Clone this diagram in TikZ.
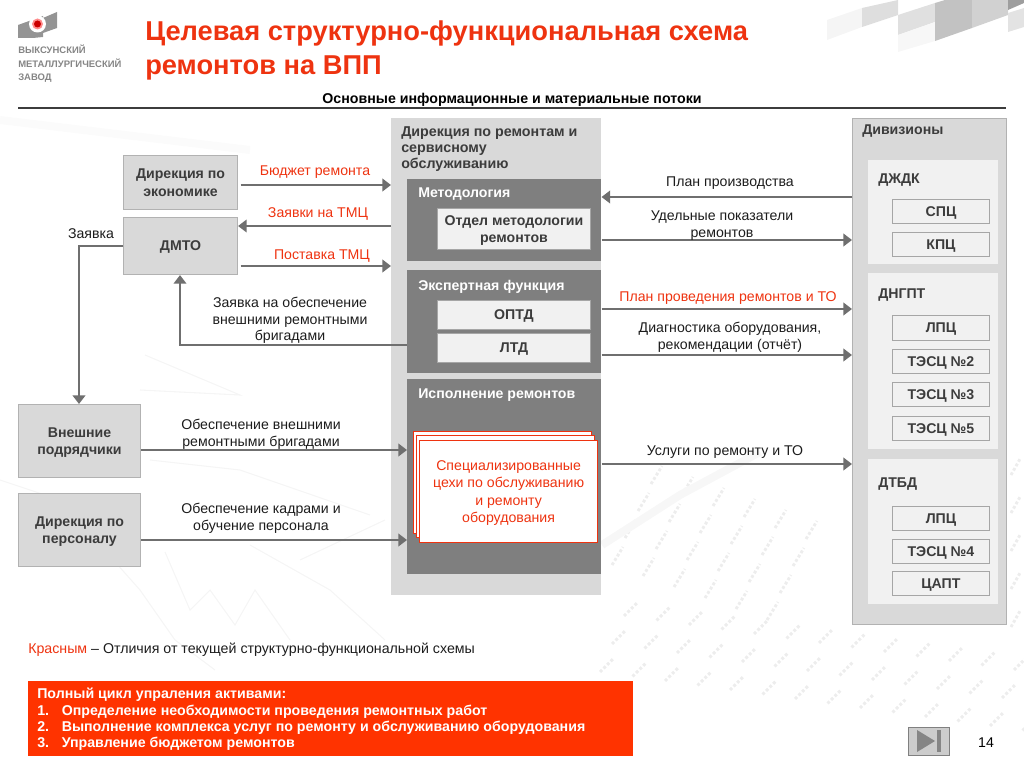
\documentclass[tikz,border=0pt]{standalone}
\usepackage{fontspec}
\setmainfont{Liberation Sans}
\usetikzlibrary{arrows.meta,calc}
\definecolor{redt}{HTML}{EE3310}
\definecolor{redb}{HTML}{FF3300}
\definecolor{lgray}{HTML}{D9D9D9}
\definecolor{pale}{HTML}{F1F1F1}
\definecolor{midg}{HTML}{7F7F7F}
\definecolor{linec}{HTML}{6F6F6F}
\definecolor{txtd}{HTML}{3C3C3C}
\definecolor{txtb}{HTML}{1C1C1C}
\tikzset{
 box/.style n args={4}{rectangle,inner sep=0pt,anchor=north west,minimum width=(#3-#1)*0.75pt,minimum height=(#4-#2)*0.75pt},
 sidebox/.style={fill=lgray,draw=black!30,line width=.8pt,align=center,text depth=0pt,font=\fontsize{10.6}{13}\selectfont\bfseries,text=txtd},
 smallbox/.style={fill=pale,draw=black!35,line width=.7pt,align=center,text depth=0pt,font=\fontsize{10.6}{13}\selectfont\bfseries,text=txtd},
 darkpanel/.style={fill=midg},
 panelhead/.style={anchor=west,inner sep=0pt,text depth=0pt,font=\fontsize{10.6}{12}\selectfont\bfseries},
 link/.style={draw=linec,line width=1.5pt,-{Triangle[width=9.5pt,length=6.5pt]}},
 lbl/.style={inner sep=0pt,align=center,text depth=0pt,text=txtb,font=\fontsize{10.6}{12.6}\selectfont},
 rlbl/.style={lbl,text=redt},
 sheet/.style={rectangle,inner sep=0pt,anchor=north west,fill=white,draw=redt,line width=.9pt},
 bgdigits/.style={black!7,line width=2.2pt,dash pattern=on 2.2pt off 1.6pt},
 bgchart/.style={black!4,line width=.8pt},
}
\begin{document}
\begin{tikzpicture}[x=0.75pt,y=-0.75pt]
\useasboundingbox (0,0) rectangle (1024,767);
% faint background: figures of the photographed table
\foreach \r in {0,...,2}{
  \foreach \c in {0,...,13}{
    \pgfmathsetmacro{\px}{600+\c*32.5+\r*12}
    \pgfmathsetmacro{\py}{672+\c*4.5-\r*28}
    \draw[bgdigits] (\px,\py) -- ++(14,-14);
  }
}
\foreach \r in {0,...,3}{
  \foreach \c in {0,...,5}{
    \pgfmathsetmacro{\px}{612+\c*31+\r*13}
    \pgfmathsetmacro{\py}{565+\c*11-\r*27}
    \draw[bgdigits] (\px,\py) -- ++(11,-18);
  }
}
\foreach \r in {0,...,4}{
  \pgfmathsetmacro{\py}{475+\r*38}
  \draw[bgdigits] (1011,\py) -- ++(9,-16);
}
% faint background: chart lines and streaks
\draw[bgchart] (0,480) -- (60,500) -- (140,590) -- (175,640) -- (215,670);
\draw[bgchart] (165,552) -- (190,610) -- (210,590) -- (235,625) -- (255,590) -- (290,640);
\draw[bgchart] (250,545) -- (330,590) -- (385,640);
\draw[bgchart] (145,355) -- (240,395) -- (140,390);
\draw[bgchart] (150,460) -- (240,470) -- (370,515);
\draw[bgchart] (300,560) -- (385,520);
\draw[black!3,line width=6pt] (602,545) -- (680,495) -- (760,452);
\draw[black!1.5,line width=6pt] (0,120) -- (250,150);
% top-right blocks
\fill[black!4] (827,20) -- (862,8) -- (862,27) -- (827,40) -- cycle;
\fill[black!13] (862,8) -- (898,0) -- (898,15) -- (862,27) -- cycle;
\fill[black!12] (898,15) -- (935,3) -- (935,22) -- (898,35) -- cycle;
\fill[black!3] (898,35) -- (935,22) -- (935,41) -- (898,52) -- cycle;
\fill[black!24] (935,3) -- (945,0) -- (972,0) -- (972,28) -- (935,41) -- cycle;
\fill[black!18] (972,0) -- (1008,0) -- (1008,15) -- (972,28) -- cycle;
\fill[black!38] (1008,0) -- (1024,0) -- (1024,3) -- (1008,10) -- cycle;
\fill[black!11] (1008,13) -- (1024,8) -- (1024,27) -- (1008,32) -- cycle;
% logo
\fill[black!42] (18,25) -- (43,16) -- (43,37) -- (33,38) -- (18,38) -- cycle;
\fill[black!42] (43,18) -- (57,12) -- (57,28) -- (43,33) -- cycle;
\node[circle,fill=white,minimum size=17*0.75pt,inner sep=0pt] (logoc) at (37.5,24) {};
\node[circle,fill=red!45!white,minimum size=11*0.75pt,inner sep=0pt] (logoh) at (37.5,24) {};
\node[circle,fill=red!80!black,minimum size=7*0.75pt,inner sep=0pt] (logod) at (37.5,24) {};
\node[anchor=north west,inner sep=0pt,align=left,text=black!48,font=\fontsize{7.1}{9.9}\selectfont\bfseries] (logot) at (18,45) {ВЫКСУНСКИЙ\\МЕТАЛЛУРГИЧЕСКИЙ\\ЗАВОД};
% title
\node[anchor=north west,inner sep=0pt,align=left,text=redt,font=\fontsize{20.45}{25.5}\selectfont\bfseries] (title) at (145,20.5) {Целевая структурно-функциональная схема\\ремонтов на ВПП};
\node[inner sep=0pt,text depth=0pt,font=\fontsize{10.65}{12}\selectfont\bfseries] (sub) at (512,98) {Основные информационные и материальные потоки};
\coordinate (hl) at (18,108); \coordinate (hr) at (1006,108);
\draw[txtd,line width=.9pt] (hl) -- (hr);
% center column
\node[box={391}{118}{601}{595},fill=lgray] (col) at (391,118) {};
\node[anchor=north west,inner sep=0pt,align=left,text=txtd,font=\fontsize{10.7}{12}\selectfont\bfseries] (coltxt) at (401,126) {Дирекция по ремонтам и\\сервисному\\обслуживанию};
\node[box={407}{179}{601}{261},darkpanel] (meth) at (407,179) {};
\node[panelhead,text=white] (methh) at (418,193) {Методология};
\node[box={437}{208}{590}{249},smallbox] (otd) at (437,208) {Отдел методологии\\ремонтов};
\node[box={407}{270}{601}{373},darkpanel] (exp) at (407,270) {};
\node[panelhead,text=white] (exph) at (418,285) {Экспертная функция};
\node[box={437}{300}{590}{329},smallbox] (optd) at (437,300) {ОПТД};
\node[box={437}{333}{590}{362},smallbox] (ltd) at (437,333) {ЛТД};
\node[box={407}{379}{601}{574},darkpanel] (exe) at (407,379) {};
\node[panelhead,text=white] (exeh) at (418,394) {Исполнение ремонтов};
\node[sheet,minimum width=178*0.75pt,minimum height=102*0.75pt] (s1) at (412.5,431) {};
\node[sheet,minimum width=178*0.75pt,minimum height=102*0.75pt] (s2) at (415.5,435) {};
\node[sheet,minimum width=178*0.75pt,minimum height=102*0.75pt,align=center,text=redt,text depth=0pt,font=\fontsize{10.6}{13}\selectfont] (s3) at (419,440) {Специализированные\\цехи по обслуживанию\\и ремонту\\оборудования};
% divisions
\node[box={852}{118}{1006}{624},fill=lgray,draw=black!30,line width=.8pt] (div) at (852,118) {};
\node[panelhead,text=txtd] (divh) at (862,130) {Дивизионы};
\node[box={868}{160}{998}{264},fill=pale] (p1) at (868,160) {};
\node[panelhead,text=txtd] (p1h) at (878,179) {ДЖДК};
\node[box={892}{199}{989}{223},smallbox] (a1) at (892,199) {СПЦ};
\node[box={892}{232}{989}{256},smallbox] (a2) at (892,232) {КПЦ};
\node[box={868}{273}{998}{449},fill=pale] (p2) at (868,273) {};
\node[panelhead,text=txtd] (p2h) at (878,294) {ДНГПТ};
\node[box={892}{315}{989}{340},smallbox] (b1) at (892,315) {ЛПЦ};
\node[box={892}{349}{989}{373},smallbox] (b2) at (892,349) {ТЭСЦ №2};
\node[box={892}{382}{989}{406},smallbox] (b3) at (892,382) {ТЭСЦ №3};
\node[box={892}{416}{989}{440},smallbox] (b4) at (892,416) {ТЭСЦ №5};
\node[box={868}{459}{998}{604},fill=pale] (p3) at (868,459) {};
\node[panelhead,text=txtd] (p3h) at (878,483) {ДТБД};
\node[box={892}{506}{989}{530},smallbox] (c1) at (892,506) {ЛПЦ};
\node[box={892}{539}{989}{563},smallbox] (c2) at (892,539) {ТЭСЦ №4};
\node[box={892}{571}{989}{595},smallbox] (c3) at (892,571) {ЦАПТ};
% left boxes
\node[box={123}{155}{237}{209},sidebox] (econ) at (123,155) {Дирекция по\\экономике};
\node[box={123}{217}{237}{274},sidebox] (dmto) at (123,217) {ДМТО};
\node[box={18}{404}{140}{477},sidebox] (ext) at (18,404) {Внешние\\подрядчики};
\node[box={18}{493}{140}{566},sidebox] (pers) at (18,493) {Дирекция по\\персоналу};
% connectors
\coordinate (y185) at (0,185); \coordinate (y226) at (0,226); \coordinate (y266) at (0,266);
\coordinate (y246) at (0,246); \coordinate (x79) at (79,0); \coordinate (y345) at (0,345);
\coordinate (x180) at (180,0); \coordinate (y450) at (0,450); \coordinate (y540) at (0,540);
\coordinate (y197) at (0,197); \coordinate (y240) at (0,240); \coordinate (y309) at (0,309);
\coordinate (y355) at (0,355); \coordinate (y464) at (0,464);
\draw[link,shorten <=2pt] (econ.east |- y185) -- (col.west |- y185);
\draw[link] (col.west |- y226) -- (dmto.east |- y226);
\draw[link,shorten <=2pt] (dmto.east |- y266) -- (col.west |- y266);
\draw[link] (dmto.west |- y246) -- (x79 |- y246) -- (x79 |- ext.north);
\draw[link] (exp.west |- y345) -- (x180 |- y345) -- (x180 |- dmto.south);
\draw[link] (ext.east |- y450) -- (exe.west |- y450);
\draw[link] (pers.east |- y540) -- (exe.west |- y540);
\draw[link] (div.west |- y197) -- (meth.east |- y197);
\draw[link] (meth.east |- y240) -- (div.west |- y240);
\draw[link] (exp.east |- y309) -- (div.west |- y309);
\draw[link] (exp.east |- y355) -- (div.west |- y355);
\draw[link] (exe.east |- y464) -- (div.west |- y464);
% labels
\node[rlbl] (l1) at (315,170.5) {Бюджет ремонта};
\node[rlbl] (l2) at (318,212.5) {Заявки на ТМЦ};
\node[rlbl] (l3) at (322,254.5) {Поставка ТМЦ};
\node[lbl] (l4) at (91,234) {Заявка};
\node[lbl] (l5) at (290,319) {Заявка на обеспечение\\внешними ремонтными\\бригадами};
\node[lbl] (l6) at (261,433) {Обеспечение внешними\\ремонтными бригадами};
\node[lbl] (l7) at (261,517) {Обеспечение кадрами и\\обучение персонала};
\node[lbl] (l8) at (730,182) {План производства};
\node[lbl] (l9) at (722,224.5) {Удельные показатели\\ремонтов};
\node[rlbl] (l10) at (728,297) {План проведения ремонтов и ТО};
\node[lbl] (l11) at (730,336) {Диагностика оборудования,\\рекомендации (отчёт)};
\node[lbl] (l12) at (725,451) {Услуги по ремонту и ТО};
% note
\node[anchor=west,inner sep=0pt,text depth=0pt,font=\fontsize{10.65}{12}\selectfont,text=txtb] (note) at (28,648) {\textcolor{redt}{Красным} – Отличия от текущей структурно-функциональной схемы};
% red box
\node[box={28}{681}{633}{756},fill=redb] (rb) at (28,681) {};
\node[anchor=north west,inner sep=0pt,align=left,text=white,font=\fontsize{10.65}{12.2}\selectfont\bfseries] (rbt) at (37,688) {Полный цикл упраления активами:\\1.\hspace{9.5pt}Определение необходимости проведения ремонтных работ\\2.\hspace{9.5pt}Выполнение комплекса услуг по ремонту и обслуживанию оборудования\\3.\hspace{9.5pt}Управление бюджетом ремонтов};
% nav
\node[box={908}{727}{949}{755},fill=black!20,draw=black!50,line width=.9pt] (nav) at (908,727) {};
\fill[black!48] (917,730) -- (917,752) -- (935,741) -- cycle;
\fill[black!48] (937,730) rectangle (941,752);
\node[inner sep=0pt,text depth=0pt,font=\fontsize{10.6}{12}\selectfont] (pg) at (986,743) {14};
\end{tikzpicture}
\end{document}
